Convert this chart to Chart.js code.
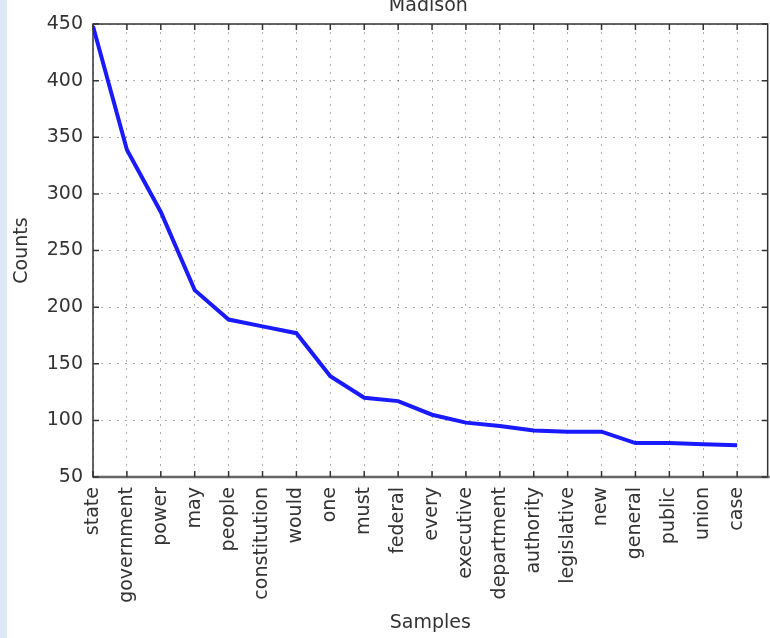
<!DOCTYPE html>
<html>
<head>
<meta charset="utf-8">
<script src="https://cdn.jsdelivr.net/npm/chart.js@4/dist/chart.umd.min.js"></script>
<style>
  html, body { margin: 0; padding: 0; overflow: hidden; }
  body { width: 770px; height: 638px; background: linear-gradient(to right, #dce8f5 7px, #ffffff 7px); }
  #wrap { position: absolute; left: 0; top: 0; width: 770px; height: 638px; }
</style>
</head>
<body>
<div id="wrap"><canvas id="chart" width="770" height="638"></canvas></div>
<script>
// ---- data ----
var samples = ['state', 'government', 'power', 'may', 'people', 'constitution', 'would', 'one',
               'must', 'federal', 'every', 'executive', 'department', 'authority', 'legislative',
               'new', 'general', 'public', 'union', 'case'];
var counts  = [448, 339, 284, 215, 189, 183, 177, 139, 120, 117, 105, 98, 95, 91, 90, 90, 80, 80, 79, 78];
var yTicks  = [50, 100, 150, 200, 250, 300, 350, 400, 450];
var chartTitle = 'Madison';

var FONT = 'DejaVu Sans';
var TXT  = '#333333';
var FS   = 19;

// frame on all four sides, ticks pointing inward, cropped title
var framePlugin = {
    id: 'frame',
    afterDraw: function(chart) {
        var ctx = chart.ctx, a = chart.chartArea;
        var xs = chart.scales.x, ys = chart.scales.y;
        ctx.save();
        ctx.strokeStyle = '#333';
        ctx.lineWidth = 1.5;
        ctx.strokeRect(a.left, a.top, a.right - a.left, a.bottom - a.top);
        // bottom spine looks heavier and greyer
        ctx.strokeStyle = '#666';
        ctx.lineWidth = 2.5;
        ctx.beginPath(); ctx.moveTo(a.left, a.bottom); ctx.lineTo(a.right + 2, a.bottom); ctx.stroke();
        ctx.strokeStyle = '#333';
        ctx.lineWidth = 1.5;
        ctx.beginPath();
        xs.ticks.forEach(function(t, i) {
            var px = xs.getPixelForTick(i);
            ctx.moveTo(px, a.bottom); ctx.lineTo(px, a.bottom - 6);
            ctx.moveTo(px, a.top);    ctx.lineTo(px, a.top + 6);
        });
        ys.ticks.forEach(function(t, i) {
            var py = ys.getPixelForTick(i);
            ctx.moveTo(a.left, py);  ctx.lineTo(a.left + 6, py);
            ctx.moveTo(a.right, py); ctx.lineTo(a.right - 6, py);
        });
        ctx.stroke();
        ctx.fillStyle = TXT;
        ctx.font = FS + 'px "' + FONT + '"';
        ctx.textAlign = 'center';
        ctx.textBaseline = 'alphabetic';
        ctx.fillText(chartTitle, (a.left + a.right) / 2 - 2, a.top - 13);
        ctx.restore();
    }
};

new Chart(document.getElementById('chart'), {
    type: 'line',
    data: {
        datasets: [{
            data: counts.map(function(v, i) { return { x: i, y: v }; }),
            borderColor: '#1a1aff',
            borderWidth: 4,
            pointRadius: 0,
            tension: 0,
            fill: false
        }]
    },
    options: {
        responsive: false,
        animation: false,
        layout: { padding: { top: 24, right: 1, left: 0, bottom: 0 } },
        plugins: { legend: { display: false }, tooltip: { enabled: false } },
        scales: {
            x: {
                type: 'linear', min: 0, max: 19.9,
                afterBuildTicks: function(s) { s.ticks = samples.map(function(c, i) { return { value: i }; }); },
                afterFit: function(s) { s.height = 161; },
                grid: { color: 'rgba(0,0,0,0.32)', lineWidth: 1, drawTicks: false },
                border: { display: false, dash: [2, 6] },
                ticks: {
                    autoSkip: false, minRotation: 90, maxRotation: 90, padding: 10,
                    color: TXT, font: { family: FONT, size: FS },
                    callback: function(v) { return samples[v]; }
                },
                title: { display: true, text: 'Samples', color: TXT, font: { family: FONT, size: FS }, padding: { top: 4, bottom: 4 } }
            },
            y: {
                min: 50, max: 450,
                afterBuildTicks: function(s) { s.ticks = yTicks.map(function(v) { return { value: v }; }); },
                afterFit: function(s) { s.width = 93; },
                grid: { color: 'rgba(0,0,0,0.32)', lineWidth: 1, drawTicks: false },
                border: { display: false, dash: [2, 6] },
                ticks: { padding: 10, color: TXT, font: { family: FONT, size: FS } },
                title: { display: true, text: 'Counts', color: TXT, font: { family: FONT, size: FS }, padding: { top: 11, bottom: 0 } }
            }
        }
    },
    plugins: [framePlugin]
});
</script>
</body>
</html>
